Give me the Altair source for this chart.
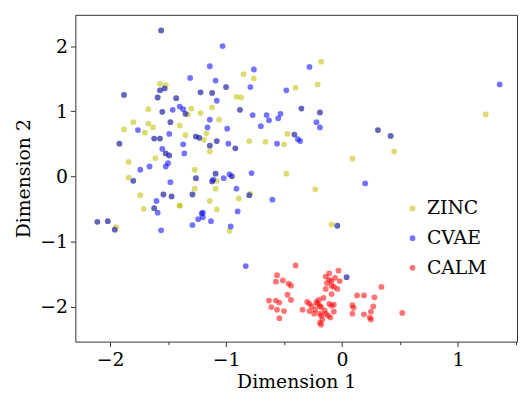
import altair as alt
import pandas as pd

# Points that appear in both ZINC and CVAE (drawn as overlapping yellow+blue)
shared_x = [-1.56, -1.53, -1.57, -1.88, -1.22, -1.12, -1.59, -1.43, -1.55, -1.35, -1.48, -1.62, -1.57, -1.26, -1.23,
            -1.08, -1.14, -1.92, -1.52, -1.49, -1.80, -1.26, -1.09, -1.12, -1.54, -1.47, -1.29, -1.62, -2.11, -2.02,
            -1.96, -1.00, -0.88, -0.35, -0.19, -0.41, -0.92, -0.95, -0.80, -0.04, 0.31, 0.42, 0.04]
shared_y = [2.24, 1.35, 1.32, 1.25, 1.29, 1.28, 1.21, 1.20, 0.99, 0.96, 0.83, 0.58, 0.58, 0.61, 0.59,
            0.54, 0.47, 0.50, 0.35, 0.32, -0.07, -0.03, 0.04, -0.08, -0.28, -0.31, -0.28, -0.49, -0.70, -0.69,
            -0.82, 1.37, 1.02, 1.04, 0.98, 0.64, 0.43, 0.00, -0.29, -0.76, 0.71, 0.62, -1.55]

zinc_x = [-1.57, -1.52, -1.30, -1.33, -1.67, -1.12, -1.22, -1.06, -1.80, -1.67, -1.63, -1.40, -1.88, -1.70, -1.35,
          -1.19, -1.17, -1.14, -1.61, -1.84, -1.27, -1.84, -1.08, -1.27, -1.09, -1.74, -1.14, -1.40, -1.40, -1.71,
          -1.08, -1.95, -0.85, -0.76, -0.91, -0.87, -0.40, -0.18, -0.21, -0.47, -0.80, -0.66, -0.50, 0.09, -0.48,
          -0.89, -0.79, -0.23, -0.97, -0.09, 1.24, 0.45]
zinc_y = [1.42, 1.40, 1.04, 0.95, 1.03, 1.06, 0.97, 0.87, 0.83, 0.81, 0.75, 0.78, 0.72, 0.67, 0.63,
          0.56, 0.66, 0.38, 0.28, 0.22, 0.10, -0.02, -0.07, -0.19, -0.19, -0.29, -0.38, -0.45, -0.45, -0.50,
          -0.51, -0.78, 1.57, 1.50, 1.22, 1.21, 1.36, 1.76, 1.41, 0.65, 0.54, 0.53, 0.49, 0.27, 0.04,
          -0.34, -0.27, -0.20, -0.84, -0.74, 0.95, 0.38]

cvae_x = [-1.03, -1.14, -1.31, -1.09, -1.08, -1.40, -1.46, -1.37, -1.14, -1.76, -1.16, -1.49, -1.37, -1.55, -1.36,
          -1.50, -1.52, -1.66, -1.74, -1.48, -1.11, -1.60, -1.59, -1.21, -1.20, -1.20, -1.24, -1.13, -1.29, -1.56,
          -0.99, -0.76, -0.79, -0.77, -0.70, -0.65, -0.63, -0.55, -0.53, -0.48, -0.28, -0.22, -0.19, -0.38, -0.36,
          -0.56, -0.98, -0.78, -0.97, -1.02, -0.91, -0.60, -0.90, -0.96, 0.20, 1.36, -0.83]
cvae_y = [2.00, 1.69, 1.51, 1.47, 1.16, 1.07, 1.02, 1.03, 0.87, 0.71, 0.75, 0.65, 0.49, 0.42, 0.35,
          0.20, 0.15, 0.15, 0.10, -0.09, -0.05, -0.38, -0.56, -0.57, -0.56, -0.63, -0.66, -0.69, -0.75, -0.83,
          0.73, 1.64, 1.37, 0.94, 0.77, 0.94, 0.86, 0.89, 0.96, 1.32, 1.68, 0.83, 0.75, 0.57, 0.54,
          0.50, 0.50, 0.05, 0.03, -0.03, -0.19, -0.36, -0.54, -0.77, -0.11, 1.41, -1.38]

calm_x = [-0.40, -0.56, -0.51, -0.57, -0.46, -0.44, -0.47, -0.44, -0.63, -0.57, -0.54, -0.61, -0.56, -0.50, -0.54,
          -0.03, -0.14, -0.11, -0.09, -0.06, -0.02, -0.13, -0.09, -0.07, -0.14, -0.04, -0.09, -0.16, -0.20, -0.30,
          -0.28, -0.22, -0.21, -0.19, -0.18, -0.11, -0.09, -0.07, -0.26, -0.34, -0.23, -0.15, -0.07, -0.28, -0.19,
          -0.18, -0.14, -0.12, -0.24, -0.10, -0.17, -0.19, -0.18, 0.13, 0.19, 0.28, 0.34, 0.09, 0.10, 0.27,
          0.09, 0.25, 0.19, 0.24, 0.25, 0.52, -0.11]
calm_y = [-1.37, -1.52, -1.60, -1.62, -1.65, -1.68, -1.82, -1.90, -1.91, -1.91, -1.94, -2.01, -2.05, -2.07, -2.18,
          -1.45, -1.54, -1.59, -1.61, -1.56, -1.61, -1.64, -1.68, -1.70, -1.73, -1.73, -1.81, -1.87, -1.90, -1.93,
          -1.96, -1.93, -1.96, -1.99, -2.01, -1.96, -1.99, -1.97, -2.00, -2.05, -2.05, -2.06, -2.08, -2.07, -2.11,
          -2.14, -2.11, -2.14, -2.11, -2.17, -2.20, -2.25, -2.28, -1.83, -1.83, -1.86, -1.70, -1.98, -2.02, -2.00,
          -2.11, -2.08, -2.12, -2.17, -2.20, -2.10, -1.49]

groups = ["ZINC", "CVAE", "CALM"]
colors = ["#bfbf00", "#0000ff", "#ff0000"]

rows = []
for x, y in zip(shared_x + zinc_x, shared_y + zinc_y):
    rows.append(("ZINC", x, y))
for x, y in zip(shared_x + cvae_x, shared_y + cvae_y):
    rows.append(("CVAE", x, y))
for x, y in zip(calm_x, calm_y):
    rows.append(("CALM", x, y))
df = pd.DataFrame(rows, columns=["set", "x", "y"])
df["order"] = range(len(df))

font = "DejaVu Serif"
fs = 19
alpha = 0.55

chart = alt.Chart(df).mark_circle(size=34, opacity=alpha, strokeWidth=0).encode(
    x=alt.X("x:Q",
            scale=alt.Scale(domain=[-2.3, 1.51], nice=False, zero=False),
            axis=alt.Axis(values=[-2, -1.5, -1, -0.5, 0, 0.5, 1, 1.5],
                          tickSize={"condition": {"test": "datum.value % 1 != 0", "value": 3}, "value": 5},
                          labelExpr="datum.value % 1 == 0 ? format(datum.value, 'd') : ''",
                          title="Dimension 1", grid=False, domain=False,
                          labelPadding=4, titlePadding=3)),
    y=alt.Y("y:Q",
            scale=alt.Scale(domain=[-2.54, 2.48], nice=False, zero=False),
            axis=alt.Axis(values=[-2, -1, 0, 1, 2], tickSize=5, format="d",
                          title="Dimension 2", grid=False, domain=False,
                          labelPadding=3, titlePadding=6)),
    color=alt.Color("set:N",
                    scale=alt.Scale(domain=groups, range=colors),
                    legend=alt.Legend(orient="none", legendX=331, legendY=186, title=None,
                                      labelFont=font, labelFontSize=fs, symbolType="circle",
                                      symbolSize=34, symbolOpacity=alpha, symbolStrokeWidth=0,
                                      labelOffset=5, rowPadding=10, padding=0)),
    order="order:Q",
).properties(
    width=446, height=330,
    autosize="none",
    padding={"left": 68, "top": 5, "right": 2, "bottom": 51},
).configure_view(
    stroke="#333333", strokeWidth=1
).configure_axis(
    labelFont=font, titleFont=font, labelFontSize=fs, titleFontSize=fs,
    titleFontWeight="normal", tickColor="#333333", labelColor="black", titleColor="black",
    tickWidth=1
)

chart.save("out.html", embed_options={"renderer": "svg", "actions": False})
